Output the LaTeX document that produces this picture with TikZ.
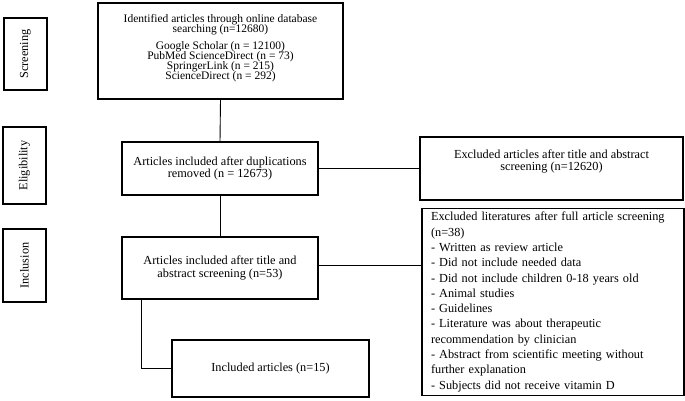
\documentclass[tikz,border=0pt]{standalone}
\usepackage{fontspec}
\setmainfont{Liberation Serif}
\usepackage{tikz}
\usetikzlibrary{positioning}
\newcommand{\tightlines}{\lineskiplimit=-5pt\relax}
\tikzset{box/.style = {draw, line width = 1.1pt, inner sep = 0, align = center,
    font = \fontsize{12.3}{12.5}\selectfont\tightlines}}
\tikzset{side/.style = {box, rotate = 90, minimum height = 43}}
\tikzset{link/.style = {line width = 0.9pt}}

\begin{document}
\begin{tikzpicture}[x=1pt, y=-1pt]
    \useasboundingbox (0, 0) rectangle (685, 400);
    % phase labels on the left
    \node [side, minimum width = 72] (screen) at (25.5, 54) {Screening};
    \node [side, minimum width = 77] (elig) at (24.5, 165.5) {Eligibility};
    \node [side, minimum width = 73] (incl) at (24.5, 265.5) {Inclusion};
    % main column
    \node [box, minimum width = 245, minimum height = 96,
      font = \fontsize{11.5}{10}\selectfont\tightlines] (ident) at (220.5, 51)
      {Identified articles through online database\\[0.5pt]searching (n=12680)\\[7pt]
       Google Scholar (n = 12100)\\PubMed ScienceDirect (n = 73)\\
       SpringerLink (n = 215)\\ScienceDirect (n = 292)\\[-2pt]\mbox{}};
    \node [box, minimum width = 196, minimum height = 53] (dedup) at (220, 168.5)
      {Articles included after duplications\\removed (n = 12673)};
    \node [box, minimum width = 196, minimum height = 62] (abstr) at (220, 268)
      {Articles included after title and\\abstract screening (n=53)};
    \node [box, minimum width = 197, minimum height = 57] (final) at (270.5, 368.5)
      {Included articles (n=15)};
    % exclusions
    \node [box, minimum width = 263, minimum height = 63] (excl1) at (551.5, 168.5)
      {Excluded articles after title and abstract\\screening (n=12620)\\[4pt]\mbox{}};
    \node [box, line width = 1.8pt, minimum width = 262, minimum height = 187,
      align = left, text width = 244,
      font = \fontsize{12.3}{15.3}\selectfont] (excl2) at (553, 302)
      {Excluded literatures after full article screening\\
       (n=38)\\
       - Written as review article\\
       - Did not include needed data\\
       - Did not include children 0-18 years old\\
       - Animal studies\\
       - Guidelines\\
       - Literature was about therapeutic\\
       recommendation by clinician\\
       - Abstract from scientific meeting without\\
       further explanation\\
       - Subjects did not receive vitamin D};
    % connectors
    \draw [link] (ident.south) -- (dedup.north);
    \draw [link] (dedup.south) -- (abstr.north);
    \draw [link] (dedup.east) -- (excl1.west);
    \draw [link] ([yshift = 3]abstr.east) -- ([yshift = 3]abstr.east -| excl2.west);
    \draw [link] ([xshift = 20]abstr.south west) |- (final.west);
  \end{tikzpicture}
\end{document}
